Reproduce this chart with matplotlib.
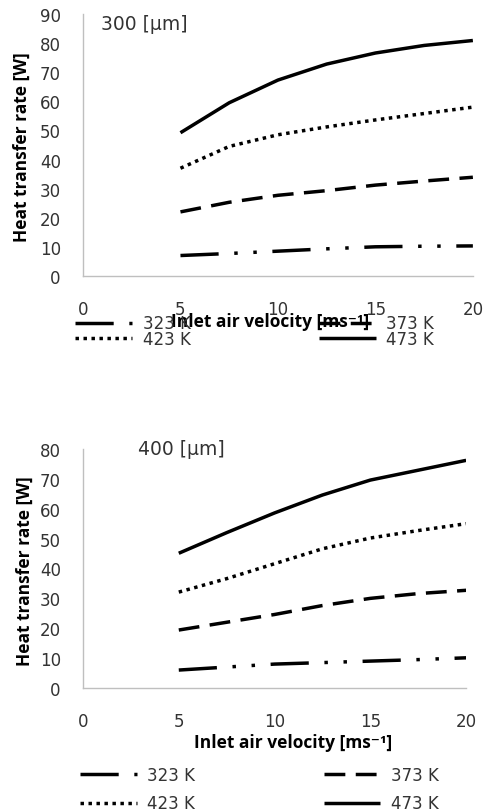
import matplotlib
matplotlib.use("Agg")
import matplotlib.pyplot as plt

plt.rcParams['font.family'] = ['Open Sans', 'DejaVu Sans']
WIDE = ['DejaVu Sans']

velocity = [5, 7.5, 10, 12.5, 15, 17.5, 20]
series_labels = ['323 K', '373 K', '423 K', '473 K']

q300_323 = [7.0, 7.7, 8.5, 9.3, 10.0, 10.2, 10.3]
q300_373 = [22.0, 25.3, 27.7, 29.3, 31.2, 32.6, 33.9]
q300_423 = [37.0, 44.5, 48.5, 51.2, 53.6, 55.8, 58.0]
q300_473 = [49.2, 59.5, 67.3, 72.8, 76.6, 79.2, 80.9]

q400_323 = [6.0, 7.0, 8.0, 8.5, 9.0, 9.5, 10.1]
q400_373 = [19.4, 22.0, 24.6, 27.6, 30.0, 31.6, 32.7]
q400_423 = [32.1, 36.6, 41.6, 46.6, 50.2, 52.7, 55.0]
q400_473 = [45.1, 52.0, 58.6, 64.6, 69.6, 72.9, 76.2]

xticks = [0, 5, 10, 15, 20]
yticks_top = [0, 10, 20, 30, 40, 50, 60, 70, 80, 90]
yticks_bot = [0, 10, 20, 30, 40, 50, 60, 70, 80]

styles = {
    '323 K': dict(dashes=(11, 4.5, 1, 4.5, 1, 4.5)),
    '373 K': dict(dashes=(6, 3)),
    '423 K': dict(dashes=(1, 1.3)),
    '473 K': dict(linestyle='-'),
}

LW = 2.5
TXT = '#333333'
SP = '#bfbfbf'
FS = 12

fig = plt.figure(figsize=(4.84, 8.12), dpi=100)


def make_panel(rect, data, yticks, ymax, title, title_xy, xlabel_xy, ylabel_xy,
               leg_anchor, leg_spacing):
    ax = fig.add_axes(rect)
    handles = {}
    for lab, vals in zip(series_labels, data):
        ln, = ax.plot(velocity, vals, color='black', lw=LW, solid_capstyle='butt',
                      dash_capstyle='butt', label=lab, **styles[lab])
        handles[lab] = ln
    ax.set_xlim(0, 20)
    ax.set_ylim(0, ymax)
    ax.set_xticks(xticks)
    ax.set_yticks(yticks)
    ax.tick_params(length=0, labelsize=FS, colors=TXT)
    ax.tick_params(axis='x', pad=17)
    ax.tick_params(axis='y', pad=16)
    for lbl in ax.get_xticklabels() + ax.get_yticklabels():
        lbl.set_family(WIDE)
    for s in ['top', 'right']:
        ax.spines[s].set_visible(False)
    for s in ['left', 'bottom']:
        ax.spines[s].set_color(SP)
        ax.spines[s].set_linewidth(1)
    ax.set_xlabel('Inlet air velocity [ms⁻¹]', fontsize=12.5, fontweight='bold', color='black')
    ax.xaxis.set_label_coords(*xlabel_xy)
    ax.xaxis.label.set_va('center')
    ax.set_ylabel('Heat transfer rate [W]', fontsize=12.5, fontweight='bold', color='black')
    ax.yaxis.set_label_coords(*ylabel_xy)
    ax.yaxis.label.set_va('center')
    ax.text(title_xy[0], title_xy[1], title, transform=ax.transAxes, fontsize=13.5,
            color=TXT, ha='left', va='center', family=WIDE)
    order = ['323 K', '423 K', '373 K', '473 K']
    ax.legend([handles[k] for k in order], order, ncol=2, loc='upper left',
              bbox_to_anchor=leg_anchor, bbox_transform=fig.transFigure,
              frameon=False, prop={'family': WIDE, 'size': FS},
              handlelength=3.4, handletextpad=0.65,
              columnspacing=7.7, labelspacing=leg_spacing, borderpad=0,
              borderaxespad=0, labelcolor=TXT)
    return ax


make_panel([0.1715, 0.659, 0.8055, 0.3225],
           [q300_323, q300_373, q300_423, q300_473],
           yticks_top, 90, '300 [μm]', (0.046, 0.962), (0.48, -0.172), (-0.156, 0.496),
           (0.155, 0.6115), -0.15)

make_panel([0.1715, 0.1515, 0.7915, 0.2943],
           [q400_323, q400_373, q400_423, q400_473],
           yticks_bot, 80, '400 [μm]', (0.144, 1.004), (0.548, -0.226), (-0.151, 0.494),
           (0.165, 0.056), 0.65)

fig.savefig('out.png', dpi=100)
